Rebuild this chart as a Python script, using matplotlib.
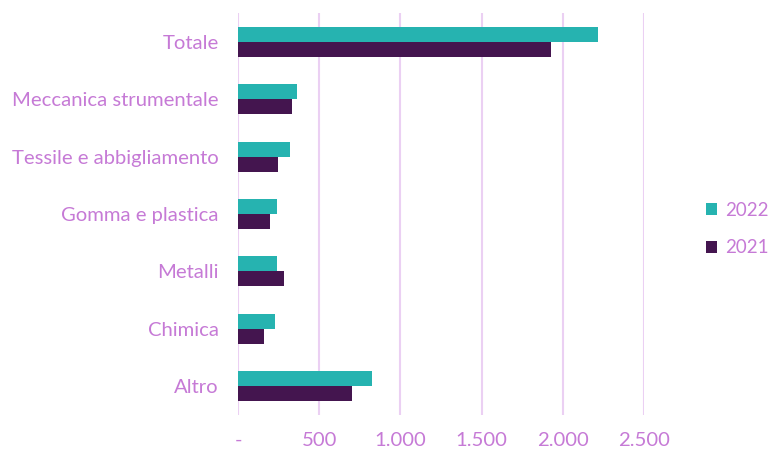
import matplotlib.pyplot as plt
import numpy as np

categories = ["Totale", "Meccanica strumentale", "Tessile e abbigliamento",
              "Gomma e plastica", "Metalli", "Chimica", "Altro"]
values_2022 = [2214, 362, 318, 238, 238, 225, 824]
values_2021 = [1928, 330, 247, 200, 284, 160, 700]
ticks = [0, 500, 1000, 1500, 2000, 2500]
tick_labels = ["-", "500", "1.000", "1.500", "2.000", "2.500"]

teal = "#26B3B0"
purple = "#44154F"
text_col = "#C67AD6"
grid_col = "#EBD0F3"

plt.rcParams["font.family"] = ["Lato", "DejaVu Sans"]

fig = plt.figure(figsize=(7.7, 4.51), dpi=100)
ax = fig.add_axes([238 / 770, 1 - 415 / 451, (644 - 238) / 770, (415 - 13) / 451])

y = np.arange(len(categories))[::-1].astype(float)
h = 0.26
ax.barh(y + h / 2, values_2022, height=h, color=teal, label="2022", zorder=3)
ax.barh(y - h / 2, values_2021, height=h, color=purple, label="2021", zorder=3)

ax.set_xlim(0, 2500)
ax.set_ylim(-0.5, 6.5)
ax.set_xticks(ticks)
ax.set_xticklabels(tick_labels)
ax.set_yticks(y)
ax.set_yticklabels(categories)
ax.tick_params(axis="both", length=0, labelsize=14.6, labelcolor=text_col)
ax.tick_params(axis="x", pad=12)
ax.tick_params(axis="y", pad=14)
ax.grid(axis="x", color=grid_col, linewidth=1.5, zorder=0)
ax.set_axisbelow(True)
for s in ax.spines.values():
    s.set_visible(False)

leg = fig.legend(loc="center left", bbox_to_anchor=(706 / 770, 1 - 229 / 451),
                 frameon=False, fontsize=13.5, handlelength=0.6, handleheight=0.6,
                 handletextpad=0.4, labelspacing=1.1, borderpad=0, borderaxespad=0)
for t in leg.get_texts():
    t.set_color(text_col)

fig.savefig("out.png", dpi=100)
